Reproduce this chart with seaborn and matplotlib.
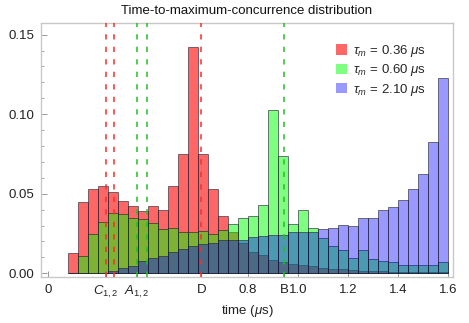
import numpy as np
import matplotlib
matplotlib.use("Agg")
import matplotlib.pyplot as plt
import seaborn as sns
from matplotlib.patches import Patch

# ===== Data =====
bin_edges = [round(0.08 + 0.04 * i, 2) for i in range(39)]
bin_centers = [round((a + b) / 2, 3) for a, b in zip(bin_edges[:-1], bin_edges[1:])]

red_vals = [0.0130, 0.0448, 0.0532, 0.0551, 0.0509, 0.0455, 0.0425, 0.0390, 0.0421, 0.0396,
            0.0551, 0.0752, 0.1422, 0.0748, 0.0530, 0.0363, 0.0258, 0.0190, 0.0132, 0.0115,
            0.0086, 0.0074, 0.0061, 0.0050, 0.0045, 0.0034, 0.0030, 0.0027, 0.0019, 0.0015,
            0.0012, 0.0012, 0.0010, 0.0010, 0.0010, 0.0008, 0.0008, 0.0008]
green_vals = [0.0005, 0.0111, 0.0249, 0.0325, 0.0379, 0.0375, 0.0350, 0.0344, 0.0316, 0.0279,
              0.0287, 0.0262, 0.0262, 0.0266, 0.0245, 0.0275, 0.0308, 0.0350, 0.0363, 0.0429,
              0.1025, 0.0735, 0.0312, 0.0400, 0.0287, 0.0220, 0.0174, 0.0145, 0.0094, 0.0145,
              0.0090, 0.0080, 0.0071, 0.0055, 0.0055, 0.0050, 0.0055, 0.0069]
blue_vals = [0.0, 0.0, 0.0, 0.0003, 0.0013, 0.0031, 0.0048, 0.0075, 0.0096, 0.0111,
             0.0132, 0.0153, 0.0170, 0.0182, 0.0191, 0.0207, 0.0212, 0.0207, 0.0228, 0.0233,
             0.0241, 0.0241, 0.0258, 0.0258, 0.0260, 0.0279, 0.0283, 0.0304, 0.0300, 0.0346,
             0.0350, 0.0396, 0.0415, 0.0459, 0.0530, 0.0624, 0.0828, 0.1230]

series_labels = [r"$\tau_m$ = 0.36 $\mu$s", r"$\tau_m$ = 0.60 $\mu$s", r"$\tau_m$ = 2.10 $\mu$s"]

red_lines = [0.232, 0.264, 0.613]
green_lines = [0.355, 0.395, 0.945]

xtick_pos = [0, 0.232, 0.355, 0.613, 0.8, 0.945, 1.0, 1.2, 1.4, 1.6]
xtick_labels = ["0", "$C_{1,2}$", "$A_{1,2}$", "D", "0.8", "B", "1.0", "1.2", "1.4", "1.6"]
ytick_pos = [0.0, 0.05, 0.10, 0.15]

# ===== Style =====
sns.set_style("white")
plt.rcParams["font.family"] = ["Liberation Sans", "DejaVu Sans"]
plt.rcParams["mathtext.fontset"] = "custom"
plt.rcParams["mathtext.rm"] = "Liberation Sans"
plt.rcParams["mathtext.it"] = "Liberation Sans:italic"
plt.rcParams["lines.scale_dashes"] = False

fig = plt.figure(figsize=(4.69, 3.23), dpi=100)
ax = fig.add_axes([41 / 469, 1 - 277.3 / 323, 412 / 469, 254.8 / 323])

colors = [(1, 0, 0), (0, 1, 0), (0, 0, 1)]
alphas = [0.6, 0.5, 0.4]
for vals, c, a in zip([red_vals, green_vals, blue_vals], colors, alphas):
    sns.histplot(x=bin_centers, weights=vals, bins=bin_edges, color=c, alpha=a,
                 edgecolor=(0.12, 0.12, 0.18, 0.6), linewidth=0.7, ax=ax)

for x in red_lines:
    ax.axvline(x, color="#ff2a2a", lw=1.1, ls=(0, (3.8, 5.2)), zorder=5)
for x in green_lines:
    ax.axvline(x, color="#22c022", lw=1.1, ls=(0, (3.8, 5.2)), zorder=5)

ax.set_xlim(-0.028, 1.62)
ax.set_ylim(-0.0025, 0.1576)

ax.set_xticks(xtick_pos)
ax.set_xticklabels(xtick_labels)
ax.set_yticks(ytick_pos)
ax.set_yticklabels(["0.00", "0.05", "0.10", "0.15"])
ax.set_yticks(np.arange(0, 0.1551, 0.01), minor=True)
ax.tick_params(axis="both", which="major", direction="in", length=4, width=0.7,
               color="#999999", labelsize=9.5, labelcolor="#222222", pad=5,
               bottom=True, left=True)
ax.tick_params(axis="y", which="minor", direction="in", length=2, width=0.6,
               color="#999999", left=True)

for sp in ax.spines.values():
    sp.set_color("#c8c8c8")
    sp.set_linewidth(1.0)

ax.set_ylabel("")
ax.set_xlabel(r"time ($\mu$s)", fontsize=9.5, color="#222222", labelpad=2)
ax.set_title("Time-to-maximum-concurrence distribution", fontsize=9.5, color="#111111", pad=6)

handles = [Patch(facecolor=c, alpha=a, edgecolor="none") for c, a in zip(colors, alphas)]
ax.legend(handles, series_labels, loc="upper left", bbox_to_anchor=(0.70, 0.945),
          frameon=False, fontsize=9.5, handlelength=0.8, handleheight=0.8,
          handletextpad=0.5, labelspacing=0.25, borderpad=0)

fig.savefig("out.png", dpi=100)
